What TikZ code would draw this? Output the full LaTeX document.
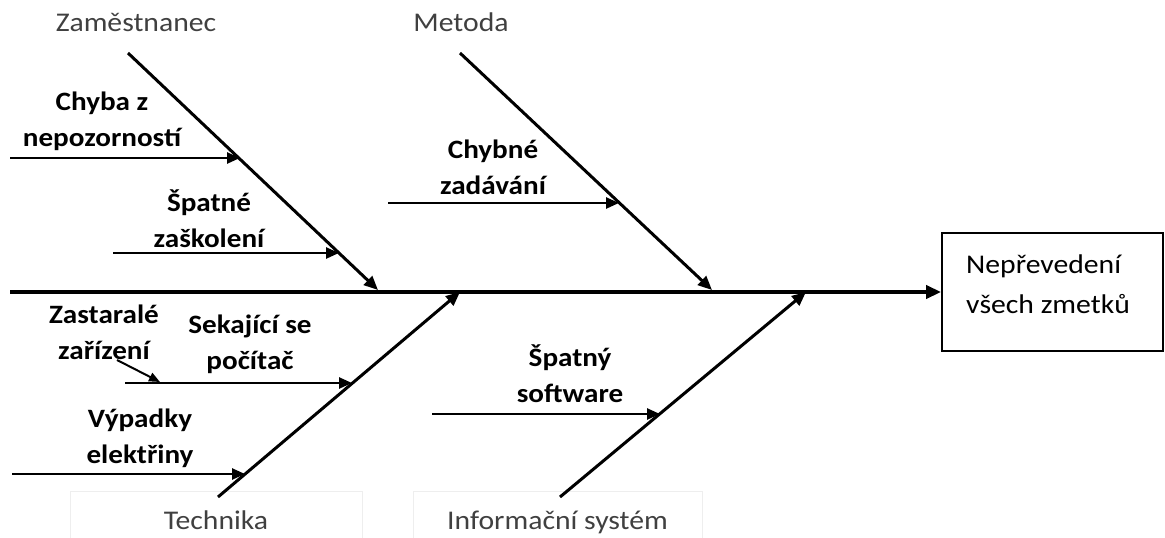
\documentclass[tikz,border=0pt]{standalone}
\usepackage{fontspec}
\setmainfont{Carlito}
\newfontfamily\widefont{Carlito}[FakeStretch=1.1]
\usetikzlibrary{arrows.meta}
\definecolor{catgrey}{HTML}{404040}
\definecolor{framegrey}{HTML}{EEEEEE}

\begin{document}
\begin{tikzpicture}[x=1pt, y=-1pt,
  spine/.style={line width=4pt, -{Triangle[length=15pt,width=13pt]}},
  bone/.style={line width=3pt, -{Triangle[length=14pt,width=12pt]}},
  cause/.style={line width=2.5pt, -{Triangle[length=13pt,width=11pt]}},
  minor/.style={line width=2pt, -{Triangle[length=11pt,width=9pt]}},
  catlabel/.style={font=\widefont\fontsize{27}{30}\selectfont, text=catgrey, inner sep=0pt,
    text height=19pt, text depth=6pt},
  catframe/.style={catlabel, draw=framegrey, line width=1pt, minimum height=64pt},
  causelabel/.style={font=\widefont\bfseries\fontsize{26.5}{36}\selectfont, align=center, inner sep=0pt},
  effectbox/.style={draw, line width=1.8pt, minimum width=221pt, minimum height=118pt, inner sep=0pt}
]
\useasboundingbox (0,0) rectangle (1165,538);

% effect
\node[effectbox] (effect) at (1052.5,292) {};
\node[anchor=west, align=left, inner sep=0pt, font=\widefont\fontsize{27}{40}\selectfont]
  (effecttxt) at (966,284) {Nepřevedení\\všech zmetků};

% main spine
\coordinate (tail) at (10,292);
\draw[spine] (tail) -- (effect.west);

% category labels
\node[catlabel] (zam) at (136,25) {Zaměstnanec};
\node[catlabel] (met) at (461,25) {Metoda};
\node[catframe, minimum width=292pt] (tech) at (216,523) {Technika};
\node[catframe, minimum width=289pt] (info) at (557.5,523) {Informační systém};

% main bones
\coordinate (zamtop) at (128,53);   \coordinate (zamend) at (378,290);
\coordinate (mettop) at (460,53);   \coordinate (metend) at (712,290);
\coordinate (techbot) at (218,497); \coordinate (techend) at (460,292);
\coordinate (infobot) at (560,497); \coordinate (infoend) at (806,292);
\draw[bone] (zamtop) -- (zamend);
\draw[bone] (mettop) -- (metend);
\draw[bone] (techbot) -- (techend);
\draw[bone] (infobot) -- (infoend);

% causes: Zaměstnanec
\coordinate (c1s) at (10,158);  \coordinate (c1e) at (240,158);
\coordinate (c2s) at (113,253); \coordinate (c2e) at (339,253);
\draw[cause] (c1s) -- (c1e);
\draw[cause] (c2s) -- (c2e);
\node[causelabel] (c1l) at (102,121) {Chyba z\\nepozorností};
\node[causelabel] (c2l) at (209,219) {Špatné\\zaškolení};

% causes: Metoda
\coordinate (c3s) at (388,203); \coordinate (c3e) at (619,203);
\draw[cause] (c3s) -- (c3e);
\node[causelabel] (c3l) at (493,167) {Chybné\\zadávání};

% causes: Technika
\coordinate (c4s) at (125,383); \coordinate (c4e) at (352,383);
\coordinate (c5s) at (12,474);  \coordinate (c5e) at (245,474);
\draw[cause] (c4s) -- (c4e);
\draw[cause] (c5s) -- (c5e);
\node[causelabel] (c4l) at (250,344) {Sekající se\\počítač};
\node[causelabel] (c5l) at (140,438) {Výpadky\\elektřiny};
\node[causelabel] (c6l) at (104,332) {Zastaralé\\zařízení};
\coordinate (c6s) at (117,360); \coordinate (c6e) at (160,382);
\draw[minor] (c6s) -- (c6e);

% causes: Informační systém
\coordinate (c7s) at (432,414); \coordinate (c7e) at (660,414);
\draw[cause] (c7s) -- (c7e);
\node[causelabel] (c7l) at (570,374) {Špatný\\software};
\end{tikzpicture}
\end{document}
